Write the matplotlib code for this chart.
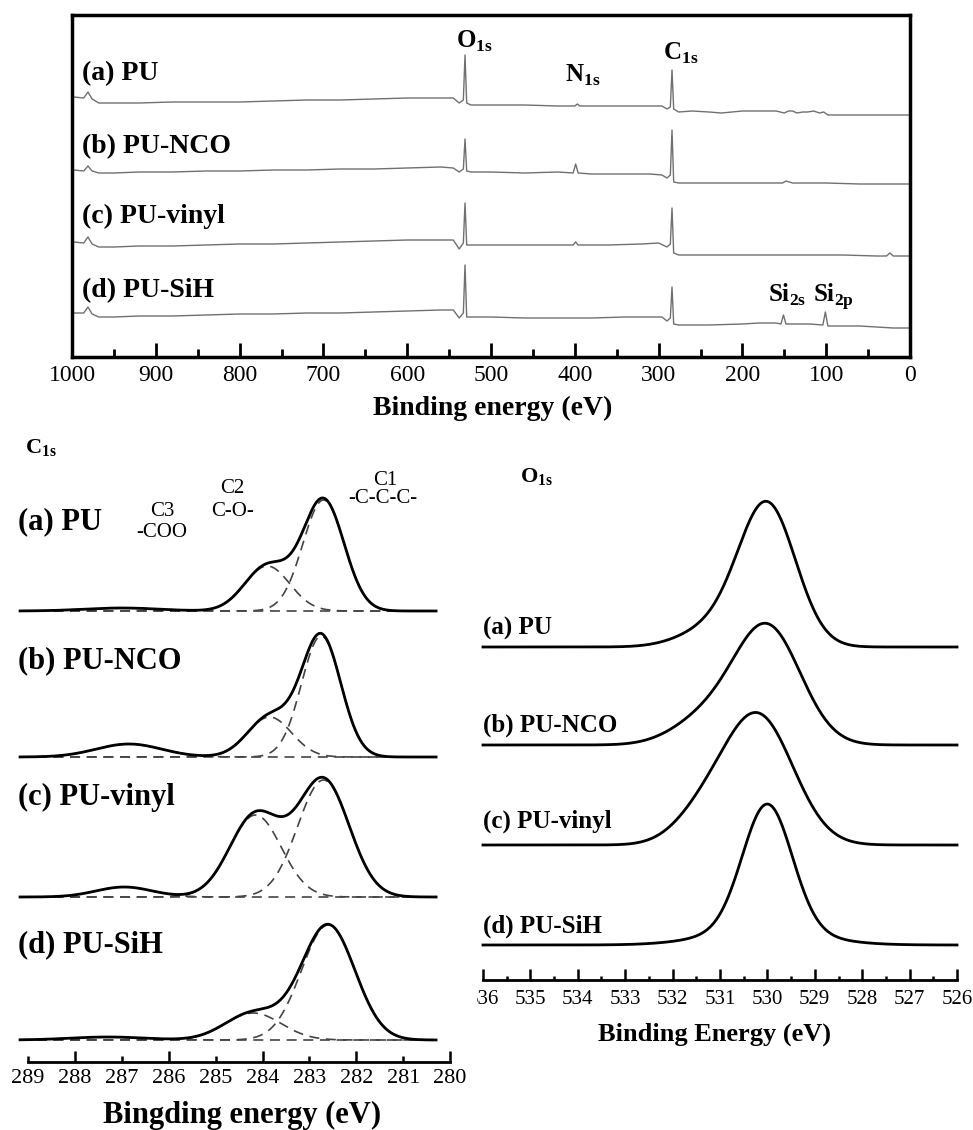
import numpy as np
import matplotlib
matplotlib.use('Agg')
import matplotlib.pyplot as plt
from matplotlib.ticker import MultipleLocator
from matplotlib.transforms import Bbox, TransformedBbox

plt.rcParams['font.family'] = ['Liberation Serif', 'DejaVu Serif']
plt.rcParams['mathtext.fontset'] = 'custom'
plt.rcParams['mathtext.rm'] = 'Liberation Serif'
plt.rcParams['mathtext.bf'] = 'Liberation Serif:bold'

names = ['(a) PU', '(b) PU-NCO', '(c) PU-vinyl', '(d) PU-SiH']

# survey spectra: (binding energy, intensity), arbitrary units
ev_a = [998, 986, 981, 976, 968, 950, 920, 880, 840, 800, 760, 720, 680, 640, 600,
        560, 545, 538, 533, 531, 529, 524, 500, 460, 420, 400, 397, 394, 360, 320,
        296, 290, 286, 284, 282, 276, 260, 240, 225, 200, 180, 160, 150, 145, 140,
        135, 128, 122, 115, 108, 103, 98, 80, 40, 2]
int_a = [260, 259, 265, 258, 254, 254, 254, 255, 255, 255, 256, 257, 257, 258, 259,
         259, 259, 254, 257, 302, 254, 252, 252, 252, 251, 251, 253, 251, 251, 251,
         251, 248, 250, 287, 248, 245, 246, 245, 244, 246, 246, 246, 244, 246, 246,
         244, 245, 245, 246, 244, 245, 242, 242, 242, 242]

ev_b = [998, 986, 981, 976, 968, 950, 920, 880, 840, 800, 760, 720, 680, 640, 600,
        560, 545, 538, 533, 531, 529, 524, 500, 460, 420, 402, 399, 396, 380, 340,
        310, 296, 290, 286, 284, 282, 276, 240, 200, 160, 152, 148, 140, 100, 60, 30, 2]
int_b = [187, 186, 191, 186, 184, 184, 185, 185, 186, 186, 187, 187, 188, 188, 189,
         190, 189, 185, 188, 218, 186, 185, 185, 184, 185, 184, 193, 184, 183, 183,
         183, 182, 179, 182, 227, 175, 174, 174, 174, 174, 174, 176, 174, 174, 173, 173, 173]

ev_c = [998, 986, 981, 976, 968, 950, 920, 880, 840, 800, 760, 720, 680, 640, 600,
        560, 545, 538, 533, 531, 529, 524, 500, 460, 420, 402, 399, 396, 360, 320,
        300, 290, 286, 284, 282, 276, 240, 200, 160, 120, 80, 40, 28, 24, 20, 2]
int_c = [115, 114, 120, 113, 110, 110, 111, 111, 112, 113, 113, 114, 115, 116, 117,
         117, 117, 108, 114, 154, 112, 112, 112, 112, 112, 112, 115, 112, 112, 113,
         114, 110, 113, 149, 104, 102, 102, 102, 102, 102, 102, 101, 101, 104, 101, 101]

ev_d = [998, 986, 981, 976, 968, 950, 920, 880, 840, 800, 760, 720, 680, 640, 600,
        560, 545, 538, 533, 531, 529, 524, 500, 460, 420, 380, 340, 310, 296, 290,
        286, 284, 282, 276, 240, 200, 180, 160, 154, 151, 148, 140, 120, 104, 101,
        98, 90, 60, 40, 20, 2]
int_d = [44, 44, 50, 43, 40, 40, 41, 41, 42, 43, 43, 44, 44, 45, 46,
         47, 47, 39, 44, 92, 40, 40, 40, 39, 39, 39, 40, 40, 40, 36,
         39, 70, 33, 32, 32, 33, 34, 34, 33, 42, 33, 33, 33, 32, 45,
         31, 31, 31, 30, 29, 29]

survey_ev = [ev_a, ev_b, ev_c, ev_d]
survey_int = [int_a, int_b, int_c, int_d]

# C1s fit components: (centre eV, height, sigma) for C1, C2, C3, plus baseline offset
c1s_base = [451, 305, 165, 22]
c1s_peaks = [
    [(282.70, 111, 0.44), (283.90, 45, 0.48), (287.00, 3, 0.80)],
    [(282.75, 121, 0.42), (283.85, 40, 0.47), (286.85, 13, 0.70)],
    [(282.70, 117, 0.55), (284.15, 82, 0.55), (286.95, 10, 0.60)],
    [(282.60, 115, 0.57), (284.20, 27, 0.60), (287.30, 3, 0.80)],
]

# O1s peaks: (centre eV, height, sigma) and baseline offset
o1s_base = [333, 235, 135, 35]
o1s_peaks = [
    [(530.0, 140, 0.60), (531.1, 19, 0.70)],
    [(530.0, 117, 0.70), (531.3, 25, 0.70)],
    [(530.2, 129, 0.74), (531.4, 24, 0.60)],
    [(530.0, 125, 0.52), (530.1, 16, 1.10)],
]


def gauss(x, c, h, s):
    return h * np.exp(-0.5 * ((x - c) / s) ** 2)


W, H = 973, 1130
fig = plt.figure(figsize=(W / 100, H / 100), dpi=100)


def px_axes(x0, y0, x1, y1):
    return fig.add_axes([x0 / W, 1 - y1 / H, (x1 - x0) / W, (y1 - y0) / H])


def ftext(x, y, s, **kw):
    kw.setdefault('va', 'baseline')
    return fig.text(x / W, 1 - y / H, s, **kw)


# ---- survey panel ----
ax = px_axes(72, 15, 910, 357)
for e, v in zip(survey_ev, survey_int):
    ax.plot(e, v, color='#707070', lw=1.0)
ax.set_xlim(1000, 0)
ax.set_ylim(0, 342)
ax.set_yticks([])
ax.xaxis.set_major_locator(MultipleLocator(100))
ax.xaxis.set_minor_locator(MultipleLocator(50))
ax.tick_params(axis='x', which='major', direction='in', length=10, width=2,
               labelsize=17, pad=6)
ax.tick_params(axis='x', which='minor', direction='in', length=6, width=2)
for sp in ax.spines.values():
    sp.set_linewidth(2.5)

for lab, y in zip(names, [80, 153, 223, 297]):
    ftext(82, y, lab, fontsize=20, fontweight='bold')
ftext(456, 48, r'$\mathbf{O}_{\mathbf{1s}}$', fontsize=18)
ftext(565, 82, r'$\mathbf{N}_{\mathbf{1s}}$', fontsize=18)
ftext(663, 60, r'$\mathbf{C}_{\mathbf{1s}}$', fontsize=18)
ftext(768, 302, r'$\mathbf{Si}_{\mathbf{2s}}$', fontsize=18)
ftext(813, 302, r'$\mathbf{Si}_{\mathbf{2p}}$', fontsize=18)
ftext(493, 415, 'Binding energy (eV)', ha='center', fontsize=20, fontweight='bold')

# ---- C1s panel ----
axc = px_axes(10, 420, 460, 1062)
e_c = np.linspace(289.17, 280.3, 600)
for base, comps in zip(c1s_base, c1s_peaks):
    total = np.full_like(e_c, base, dtype=float)
    for c, h, s in comps:
        g = gauss(e_c, c, h, s)
        total += g
        axc.plot(e_c, base + g, color='#444444', lw=1.2, ls=(0, (6, 4)))
    axc.plot(e_c, total, color='black', lw=2.0)
axc.set_xlim(289.384, 279.79)
axc.set_ylim(0, 642)
axc.set_yticks([])
for k in ['top', 'left', 'right']:
    axc.spines[k].set_visible(False)
axc.spines['bottom'].set_bounds(289, 280)
axc.spines['bottom'].set_linewidth(2)
axc.set_xticks([288, 286, 284, 282, 280])
axc.set_xticklabels(['288', '286', '284', '282', '280'])
axc.set_xticks([289, 287, 285, 283, 281], minor=True)
axc.set_xticklabels(['289', '287', '285', '283', '281'], minor=True)
axc.tick_params(axis='x', which='major', direction='in', length=8, width=1.8,
                labelsize=16, pad=5)
axc.tick_params(axis='x', which='minor', direction='in', length=4, width=1.8,
                labelsize=16, pad=5)
axc.patch.set_visible(False)

ftext(25, 453, r'$\mathbf{C}_{\mathbf{1s}}$', fontsize=16)
for lab, y in zip(names, [529, 668, 805, 952]):
    ftext(18, y, lab, fontsize=22, fontweight='bold')
ftext(162, 516, 'C3', ha='center', fontsize=15)
ftext(162, 537, '-COO', ha='center', fontsize=15)
ftext(232, 493, 'C2', ha='center', fontsize=15)
ftext(232, 516, 'C-O-', ha='center', fontsize=15)
ftext(385, 485, 'C1', ha='center', fontsize=15)
ftext(383, 503, '-C-C-C-', ha='center', fontsize=15)
ftext(242, 1123, 'Bingding energy (eV)', ha='center', fontsize=22, fontweight='bold')

# ---- O1s panel ----
axo = px_axes(470, 440, 970, 980)
e_o = np.linspace(536, 526, 600)
for base, comps in zip(o1s_base, o1s_peaks):
    total = np.full_like(e_o, base, dtype=float)
    for c, h, s in comps:
        total += gauss(e_o, c, h, s)
    axo.plot(e_o, total, color='black', lw=2.0)
axo.set_xlim(536.274, 525.726)
axo.set_ylim(0, 540)
axo.set_yticks([])
for k in ['top', 'left', 'right']:
    axo.spines[k].set_visible(False)
axo.spines['bottom'].set_bounds(536, 526)
axo.spines['bottom'].set_linewidth(2)
axo.xaxis.set_major_locator(MultipleLocator(1))
axo.xaxis.set_minor_locator(MultipleLocator(0.5))
axo.tick_params(axis='x', which='major', direction='in', length=8, width=1.8,
                labelsize=15, pad=7)
axo.tick_params(axis='x', which='minor', direction='in', length=3, width=1.8)
axo.patch.set_visible(False)

ftext(520, 482, r'$\mathbf{O}_{\mathbf{1s}}$', fontsize=16)
for lab, y in zip(names, [635, 732, 828, 933]):
    ftext(483, y, lab, fontsize=18, fontweight='bold')
ftext(715, 1041, 'Binding Energy (eV)', ha='center', fontsize=19, fontweight='bold')

# the leftmost O1s tick label is cut off in the original
fig.canvas.draw()
clip = TransformedBbox(Bbox([[477 / W, 0], [1, 1]]), fig.transFigure)
for tick in axo.xaxis.get_major_ticks():
    if abs(tick.get_loc() - 536) < 0.01:
        tick.label1.set_clip_box(clip)
        tick.label1.set_clip_on(True)

fig.savefig('out.png', dpi=100)
